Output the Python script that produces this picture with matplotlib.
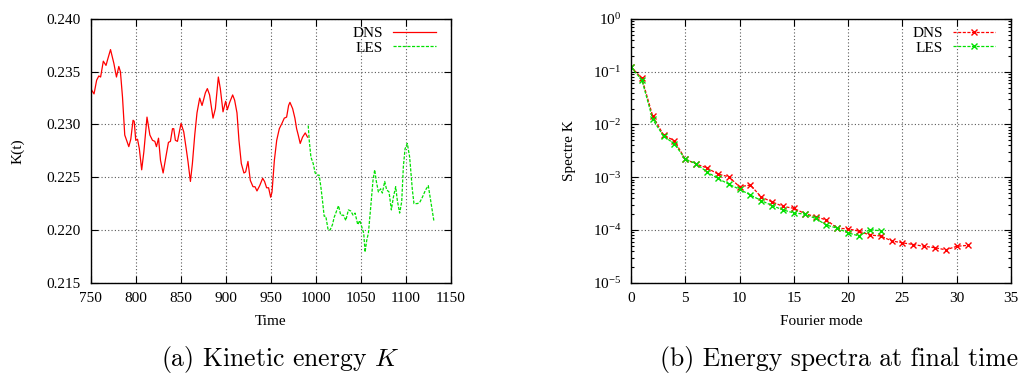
import numpy as np
import matplotlib
matplotlib.use("Agg")
import matplotlib.pyplot as plt
from matplotlib.ticker import LogLocator, NullFormatter, LogFormatterMathtext

plt.rcParams['font.family'] = ['Liberation Serif', 'DejaVu Serif']
plt.rcParams['mathtext.fontset'] = 'custom'
plt.rcParams['mathtext.rm'] = 'Liberation Serif'
plt.rcParams['mathtext.it'] = 'Liberation Serif:italic'

# ---------------- data: kinetic energy ----------------
dns_t = [750, 753.7, 756.6, 759, 761, 764, 767, 768.6, 772, 775.7, 778.6, 781.2, 783,
         785.3, 787.8, 792.3, 794.5, 797, 798.3, 800, 802, 804, 806.6, 809, 812.5, 815.7,
         818.6, 821.2, 823, 825.3, 827.5, 830.4, 833.4, 836.3, 838.5, 840.8, 842.2, 844,
         846.3, 850.3, 853.3, 856.2, 858, 860.7, 862.9, 865.5, 868, 871, 873.6, 875.5,
         877.3, 879.5, 882, 885.8, 888.4, 891.7, 893.9, 896.9, 899.8, 901.7, 904.3, 907.6,
         909.8, 912.4, 914.6, 917.2, 920.1, 922, 924.6, 927.2, 930.2, 932.4, 934.6, 937.6,
         940.9, 943, 945.3, 947.5, 949.8, 951.3, 953.9, 956.5, 959.4, 962.3, 964.9, 967.5,
         969.7, 971.2, 974.2, 976.7, 978.6, 980.4, 982.6, 985.2, 988.2, 990.7]
dns_k = [0.2334, 0.2329, 0.2342, 0.2346, 0.2345, 0.2360, 0.2356, 0.2361, 0.2371, 0.2358,
         0.2345, 0.2355, 0.2350, 0.2326, 0.2290, 0.2279, 0.2286, 0.2304, 0.2303, 0.2285,
         0.2286, 0.2277, 0.2257, 0.2274, 0.2307, 0.2290, 0.2285, 0.2284, 0.2279, 0.2287,
         0.2266, 0.2254, 0.2269, 0.2283, 0.2284, 0.2296, 0.2296, 0.2285, 0.2284, 0.2301,
         0.2293, 0.2276, 0.2265, 0.2246, 0.2263, 0.2290, 0.2311, 0.2325, 0.2318, 0.2324,
         0.2330, 0.2334, 0.2328, 0.2306, 0.2315, 0.2345, 0.2334, 0.2312, 0.2322, 0.2314,
         0.2321, 0.2328, 0.2323, 0.2311, 0.2285, 0.2263, 0.2254, 0.2255, 0.2265, 0.2247,
         0.2241, 0.2241, 0.2237, 0.2242, 0.2249, 0.2246, 0.2240, 0.2240, 0.2231, 0.2236,
         0.2266, 0.2285, 0.2296, 0.2301, 0.2306, 0.2307, 0.2318, 0.2321, 0.2315, 0.2306,
         0.2296, 0.2290, 0.2282, 0.2288, 0.2292, 0.2288]

les_t = [991.5, 992.6, 994.5, 997, 999.2, 1001.8, 1003.6, 1005.5, 1007.3, 1009.2, 1011,
         1013.6, 1015.8, 1018.4, 1020.3, 1022.1, 1025.1, 1027.6, 1030.6, 1033.2, 1036.1,
         1038.7, 1041.3, 1043.5, 1046.5, 1048.7, 1050.9, 1053.1, 1054.6, 1056.4, 1058.3,
         1060.9, 1063.4, 1065.3, 1067.1, 1069.4, 1071.9, 1073.8, 1076.4, 1078.6, 1081.2,
         1083.8, 1086, 1088.6, 1090.4, 1093, 1095.3, 1097.1, 1099, 1101.5, 1104.1, 1107.1,
         1108.9, 1112.6, 1115.2, 1118.2, 1121.8, 1124.8, 1127.4, 1131.1]
les_k = [0.2299, 0.2285, 0.2269, 0.2263, 0.2254, 0.2252, 0.2252, 0.2241, 0.2228, 0.2213,
         0.2213, 0.2200, 0.2200, 0.2205, 0.2212, 0.2216, 0.2223, 0.2214, 0.2214, 0.2209,
         0.2219, 0.2218, 0.2214, 0.2216, 0.2205, 0.2209, 0.2203, 0.2197, 0.2179, 0.2190,
         0.2197, 0.2222, 0.2247, 0.2257, 0.2246, 0.2236, 0.2239, 0.2235, 0.2246, 0.2238,
         0.2236, 0.2219, 0.2231, 0.2241, 0.2228, 0.2216, 0.2227, 0.2260, 0.2277, 0.2282,
         0.2269, 0.2238, 0.2225, 0.2225, 0.2226, 0.2231, 0.2238, 0.2242, 0.2228, 0.2208]

# ---------------- data: energy spectra ----------------
dns_modes = list(range(0, 32))
dns_spec = [0.124, 0.075, 0.0144, 0.0063, 0.0049, 0.0022, 0.00178, 0.0015, 0.00115,
            0.00102, 0.00066, 0.00071, 0.00042, 0.00034, 0.00028, 0.000257, 0.000205,
            0.000178, 0.000155, 0.000108, 0.000105, 0.000095, 0.000080, 0.000077,
            0.000062, 0.000057, 0.000053, 0.000049, 0.000046, 0.000042, 0.000049, 0.000051]
les_modes = list(range(0, 24))
les_spec = [0.121, 0.070, 0.0125, 0.0060, 0.0043, 0.0022, 0.0018, 0.00126, 0.00095,
            0.00074, 0.00059, 0.00046, 0.00036, 0.00029, 0.00024, 0.00021, 0.00020,
            0.000165, 0.000124, 0.000108, 0.000088, 0.000077, 0.000102, 0.000096]

k_ticks = [0.215, 0.220, 0.225, 0.230, 0.235, 0.240]
t_ticks = [750, 800, 850, 900, 950, 1000, 1050, 1100, 1150]
mode_ticks = [0, 5, 10, 15, 20, 25, 30, 35]

RED = '#ff0000'
GREEN = '#00e000'
FS = 11

fig = plt.figure(figsize=(10.21, 3.74), dpi=100)
W, H = 1021, 374

def px_axes(x0, x1, y0, y1):
    return fig.add_axes([x0 / W, 1 - y1 / H, (x1 - x0) / W, (y1 - y0) / H])

ax1 = px_axes(90.7, 451, 19, 282.7)
ax2 = px_axes(631, 1011, 19, 282.7)

grid_kw = dict(color='0.35', linestyle=(0, (1, 2)), linewidth=0.8)

for ax in (ax1, ax2):
    for s in ax.spines.values():
        s.set_linewidth(1.0)
    ax.tick_params(which='both', direction='in', top=True, right=True,
                   labelsize=FS, width=0.8, pad=7)
    ax.tick_params(which='major', length=5)
    ax.tick_params(which='minor', length=2.5)

leg_kw = dict(loc='upper right', markerfirst=False, frameon=False, fontsize=FS,
              handlelength=2.8, handletextpad=0.65, labelspacing=0.05,
              borderaxespad=0.0, bbox_to_anchor=(0.975, 0.995))

# ----- left plot -----
ax1.plot(dns_t, dns_k, color=RED, lw=0.9, label='DNS')
ax1.plot(les_t, les_k, color=GREEN, lw=0.9, dashes=(2.5, 1.2), label='LES')
ax1.set_xlim(750, 1150)
ax1.set_ylim(0.215, 0.240)
ax1.set_xticks(t_ticks)
ax1.set_yticks(k_ticks)
ax1.set_yticklabels([f'{v:.3f}' for v in k_ticks])
ax1.grid(True, **grid_kw)
ax1.set_xlabel('Time', fontsize=FS, labelpad=7)
ax1.set_ylabel('K(t)', fontsize=FS, labelpad=16)
ax1.legend(**leg_kw)

# ----- right plot -----
ax2.plot(dns_modes, dns_spec, color=RED, lw=0.9, dashes=(2.5, 1.2), marker='x',
         markersize=4, markeredgewidth=1.0, label='DNS')
ax2.plot(les_modes, les_spec, color=GREEN, lw=0.9, dashes=(2.5, 1.2), marker='x',
         markersize=4, markeredgewidth=1.0, label='LES')
ax2.set_yscale('log')
ax2.set_xlim(0, 35)
ax2.set_ylim(1e-5, 1)
ax2.set_xticks(mode_ticks)
ax2.yaxis.set_major_locator(LogLocator(base=10, numticks=10))
ax2.yaxis.set_major_formatter(LogFormatterMathtext())
ax2.yaxis.set_minor_locator(LogLocator(base=10, subs=np.arange(2, 10), numticks=20))
ax2.yaxis.set_minor_formatter(NullFormatter())
ax2.grid(True, which='major', **grid_kw)
ax2.set_xlabel('Fourier mode', fontsize=FS, labelpad=7)
ax2.set_ylabel('Spectre K', fontsize=FS, labelpad=12)
ax2.legend(**leg_kw)

# ----- captions -----
fig.text(280 / W, 1 - 366 / H, r'(a) Kinetic energy $K$', fontsize=18.5,
         family='cmr10', math_fontfamily='cm', ha='center', va='baseline')
fig.text(660 / W, 1 - 366 / H, '(b) Energy spectra at final time', fontsize=18.5,
         family='cmr10', ha='left', va='baseline')

fig.savefig('out.png', dpi=100)
